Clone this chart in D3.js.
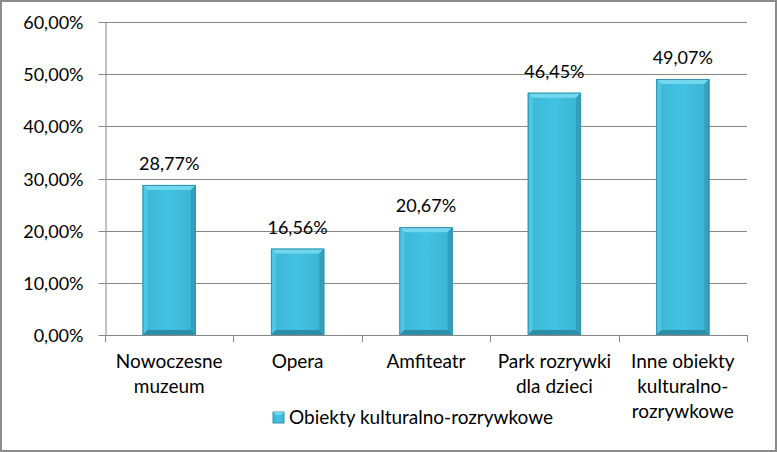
<!DOCTYPE html>
<html><head><meta charset="utf-8">
<script src="https://cdn.jsdelivr.net/npm/d3@7"></script>
<style>html,body{margin:0;padding:0;background:#fff;}svg{display:block;}</style>
</head><body>
<script>
const categories = [["Nowoczesne","muzeum"],["Opera"],["Amfiteatr"],["Park rozrywki","dla dzieci"],["Inne obiekty","kulturalno-","rozrywkowe"]];
const values = [28.77, 16.56, 20.67, 46.45, 49.07];
const yTicks = [0,10,20,30,40,50,60];
const seriesName = "Obiekty kulturalno-rozrywkowe";

(function(){
const W=777,H=452;
const fmt = v => v.toFixed(2).replace(".",",")+"%";
const font = "Lato, 'Open Sans', sans-serif";
const numSize = 18, txtSize = 19;
const svg = d3.select("body").append("svg").attr("width",W).attr("height",H);
svg.append("rect").attr("x",1).attr("y",1).attr("width",W-2).attr("height",H-2).attr("fill","#fff").attr("stroke","#8c8c8c").attr("stroke-width",2);

const pL=105,pR=747,pT=22,pB=335;
const x = d3.scaleBand().domain(d3.range(categories.length)).range([pL,pR]).paddingInner(0.585).paddingOuter(0.2925);
const y = d3.scaleLinear().domain([0,60]).range([pB,pT]);

svg.append("g").selectAll("line").data(yTicks.filter(t=>t>0)).join("line")
 .attr("x1",pL).attr("x2",pR).attr("y1",d=>Math.round(y(d))+0.5).attr("y2",d=>Math.round(y(d))+0.5)
 .attr("stroke","#878787");

const ya = svg.append("g").attr("transform",`translate(${pL+0.5},0)`)
 .call(d3.axisLeft(y).tickValues(yTicks).tickFormat(fmt).tickSize(7).tickPadding(15).tickSizeOuter(0));
ya.select(".domain").attr("stroke","#878787");
ya.selectAll(".tick line").attr("stroke","#878787");
ya.selectAll(".tick").attr("transform",d=>`translate(0,${Math.round(y(d))+0.5})`);
ya.selectAll("text").attr("font-family",font).attr("font-size",numSize).attr("fill","#000").attr("dy","0.35em");

const xa = svg.append("g");
xa.append("line").attr("x1",pL).attr("x2",pR).attr("y1",pB+0.5).attr("y2",pB+0.5).attr("stroke","#878787");
const bx = i=>Math.round(pL+i*(pR-pL)/categories.length)+0.5;
xa.selectAll("line.t").data(d3.range(categories.length+1)).join("line").attr("class","t")
 .attr("x1",bx).attr("x2",bx).attr("y1",pB).attr("y2",pB+7).attr("stroke","#878787");

const defs = svg.append("defs");
const g1 = defs.append("linearGradient").attr("id","barg").attr("x1",0).attr("x2",1).attr("y1",0).attr("y2",0);
g1.append("stop").attr("offset","0%").attr("stop-color","#3cb6d5");
g1.append("stop").attr("offset","50%").attr("stop-color","#43c2e1");
g1.append("stop").attr("offset","100%").attr("stop-color","#3bb3d2");

const bw = x.bandwidth(), bv=5;
const bars = svg.append("g").selectAll("g").data(values).join("g");
bars.append("rect").attr("x",(d,i)=>x(i)).attr("y",d=>y(d)).attr("width",bw).attr("height",d=>pB-y(d))
 .attr("fill","url(#barg)");
bars.append("path").attr("d",(d,i)=>{const x0=x(i),x1=x0+bw,y0=y(d);return `M${x0},${y0}L${x1},${y0}L${x1-bv},${y0+bv}L${x0+bv},${y0+bv}Z`;}).attr("fill","#72d8f0");
bars.append("path").attr("d",(d,i)=>{const x0=x(i),y0=y(d);return `M${x0},${y0}L${x0+bv},${y0+bv}L${x0+bv},${pB-bv}L${x0},${pB}Z`;}).attr("fill","#4fc6e3");
bars.append("path").attr("d",(d,i)=>{const x1=x(i)+bw,y0=y(d);return `M${x1},${y0}L${x1-bv},${y0+bv}L${x1-bv},${pB-bv}L${x1},${pB}Z`;}).attr("fill","#319fbd");
bars.append("path").attr("d",(d,i)=>{const x0=x(i),x1=x0+bw;return `M${x0},${pB}L${x1},${pB}L${x1-bv},${pB-bv}L${x0+bv},${pB-bv}Z`;}).attr("fill","#2b8ea9");
bars.append("rect").attr("x",(d,i)=>x(i)+0.5).attr("y",d=>y(d)+0.5).attr("width",bw-1).attr("height",d=>pB-y(d)-1)
 .attr("fill","none").attr("stroke","#3592ab").attr("stroke-width",1);

svg.append("g").selectAll("text").data(values).join("text")
 .attr("x",(d,i)=>x(i)+bw/2).attr("y",d=>y(d)-15).attr("text-anchor","middle")
 .attr("font-family",font).attr("font-size",numSize).attr("fill","#000").text(fmt);

const cl = svg.append("g").selectAll("text").data(categories).join("text")
 .attr("x",(d,i)=>x(i)+bw/2).attr("y",368).attr("text-anchor","middle")
 .attr("font-family",font).attr("font-size",txtSize).attr("fill","#000");
cl.selectAll("tspan").data(d=>d).join("tspan").attr("x",function(){return this.parentNode.getAttribute("x");})
 .attr("dy",(d,j)=>j===0?0:25).text(d=>d);

const lg = svg.append("g").attr("transform","translate(273,412)");
lg.append("rect").attr("width",11).attr("height",11).attr("fill","url(#barg)").attr("stroke","#3592ab");
lg.append("path").attr("d","M0,0L11,0L8,3L3,3Z").attr("fill","#72d8f0");
lg.append("text").attr("x",16).attr("y",12).attr("font-family",font).attr("font-size",txtSize).attr("fill","#000").text(seriesName);
})();
</script>
</body></html>
